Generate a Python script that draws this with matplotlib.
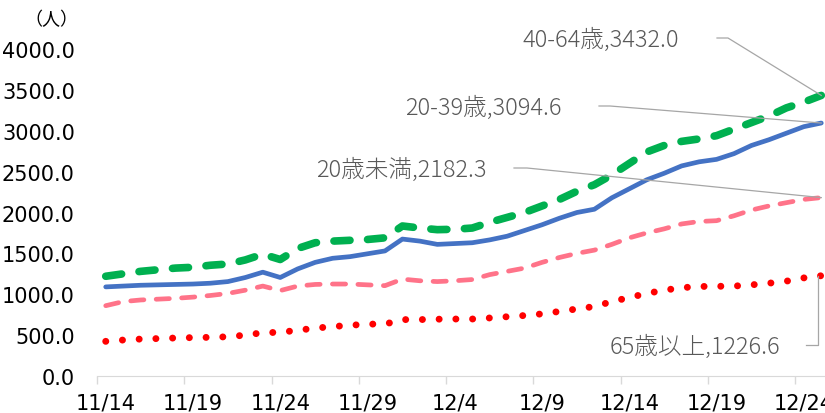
import numpy as np
import matplotlib
matplotlib.use("Agg")
import matplotlib.pyplot as plt
from matplotlib.lines import Line2D

plt.rcParams['font.family'] = ['DejaVu Sans', 'Noto Sans CJK JP']

# 11/14 〜 12/25 の日次値（人）
dates = [f"11/{d}" for d in range(14, 31)] + [f"12/{d}" for d in range(1, 26)]
tick_idx = list(range(0, len(dates), 5))

age_40_64 = [1220, 1250, 1280, 1300, 1320, 1330, 1355, 1370, 1420, 1490,
             1425, 1560, 1630, 1650, 1660, 1670, 1690, 1835, 1810, 1790,
             1795, 1810, 1880, 1940, 2000, 2080, 2160, 2260, 2340, 2460,
             2600, 2740, 2820, 2870, 2900, 2940, 3020, 3100, 3180, 3280,
             3350, 3432.0]
age_20_39 = [1090, 1100, 1110, 1115, 1120, 1125, 1135, 1155, 1205, 1270,
             1205, 1310, 1390, 1440, 1460, 1495, 1530, 1675, 1650, 1610,
             1620, 1630, 1665, 1710, 1780, 1850, 1930, 2000, 2040, 2180,
             2290, 2400, 2480, 2570, 2620, 2650, 2720, 2820, 2890, 2970,
             3050, 3094.6]
age_u20 = [860, 910, 930, 940, 950, 965, 985, 1010, 1050, 1100,
           1045, 1100, 1120, 1125, 1125, 1115, 1105, 1185, 1165, 1155,
           1165, 1180, 1240, 1280, 1320, 1390, 1450, 1500, 1540, 1610,
           1690, 1750, 1800, 1860, 1890, 1900, 1960, 2030, 2080, 2120,
           2160, 2182.3]
age_65 = [424, 440, 452, 458, 465, 470, 473, 480, 500, 530,
          534, 560, 585, 605, 620, 635, 635, 690, 690, 695,
          697, 697, 710, 725, 740, 760, 790, 820, 850, 910,
          960, 1010, 1050, 1080, 1095, 1097, 1100, 1115, 1135, 1160,
          1200, 1226.6]

W, H = 825, 414
fig = plt.figure(figsize=(W / 100, H / 100), dpi=100)
ax = fig.add_axes([97 / W, 37 / H, 733 / W, 327 / H])

x = np.arange(len(dates))
ax.plot(x, age_65, color="#ff0000", lw=5.0, dashes=(0.01, 2.4), dash_capstyle="round")
ax.plot(x, age_u20, color="#ff7389", lw=3.4, dashes=(2.8, 2.6), dash_capstyle="round")
ax.plot(x, age_20_39, color="#4472c4", lw=3.4, solid_capstyle="round")
ax.plot(x, age_40_64, color="#00b050", lw=5.5, dashes=(2.1, 2.3), dash_capstyle="round")

ax.set_xlim(-0.5, len(dates) - 0.5)
ax.set_ylim(0, 4000)
ax.set_yticks(np.arange(0, 4001, 500))
ax.set_yticklabels([f"{v:.1f}" for v in np.arange(0, 4001, 500)], fontsize=15)
ax.tick_params(axis="y", length=0, pad=16)

# 目盛線は区切り位置、ラベルは日付の中心
ax.set_xticks(np.arange(-0.5, len(dates), 5))
ax.set_xticklabels([])
ax.tick_params(axis="x", which="major", length=6, color="#d9d9d9", width=1)
ax.set_xticks(tick_idx, minor=True)
ax.set_xticklabels([dates[i] for i in tick_idx], minor=True, fontsize=15)
ax.tick_params(axis="x", which="minor", length=0, pad=12)

for s in ["left", "top", "right"]:
    ax.spines[s].set_visible(False)
ax.spines["bottom"].set_color("#d9d9d9")

fig.text(51 / W, 1 - 20 / H, "（人）", family=["Noto Sans CJK JP"], fontsize=13,
         ha="center", va="center")

# データラベルと引き出し線（画像座標: 左上原点）
labels = [
    ("40-64歳,3432.0", 679, 40, [(717, 39), (728, 39)], age_40_64[-1]),
    ("20-39歳,3094.6", 562, 108, [(599, 107), (610, 107)], age_20_39[-1]),
    ("20歳未満,2182.3", 487, 170, [(514, 169), (527, 169)], age_u20[-1]),
    ("65歳以上,1226.6", 780, 347, [(806, 346), (818, 346)], age_65[-1]),
]
last = len(dates) - 1
for txt, tx, ty, pts, val in labels:
    fig.text(tx / W, 1 - ty / H, txt, family=["Noto Sans CJK JP"], fontsize=17,
             fontweight="light", color="#595959", ha="right", va="center")
    px, py = ax.transData.transform((last, val))
    xs = [p[0] for p in pts] + [px]
    ys = [H - p[1] for p in pts] + [py]
    if txt.startswith("65"):
        xs[-1] = pts[-1][0]
    fig.add_artist(Line2D(xs, ys, transform=None, color="#a6a6a6", lw=0.9))

fig.savefig("out.png", dpi=100)
